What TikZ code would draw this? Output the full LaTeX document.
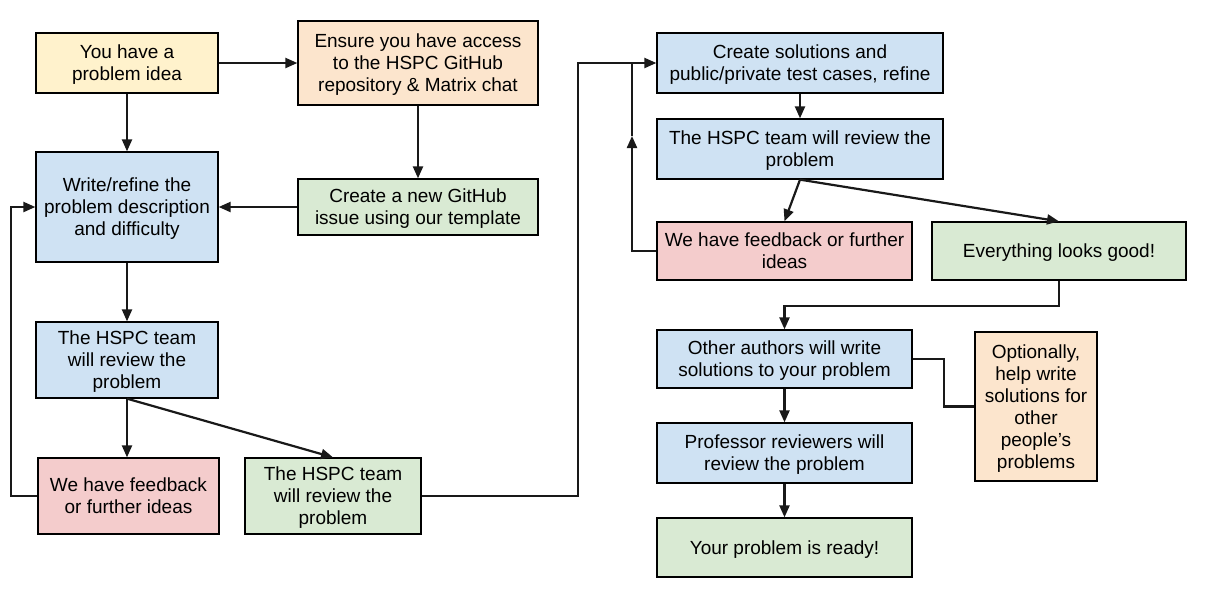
\documentclass[tikz,border=0pt]{standalone}
\usepackage{fontspec}
\setmainfont{Liberation Sans}
\usetikzlibrary{arrows.meta}
\usepackage{xcolor}
\definecolor{ideayellow}{HTML}{FFF2CC}
\definecolor{setuporange}{HTML}{FCE5CD}
\definecolor{stepblue}{HTML}{CFE2F3}
\definecolor{goodgreen}{HTML}{D9EAD3}
\definecolor{backred}{HTML}{F4CCCC}

\begin{document}
\begin{tikzpicture}[x=1pt,y=1pt,>={Triangle[length=12pt,width=10pt]}]
    \tikzstyle{box}=[draw=black, line width=1.3pt, align=center, inner sep=2pt, text depth=0pt, font=\fontsize{19}{22}\selectfont]
    \tikzstyle{idea box}=[box, fill=ideayellow];
    \tikzstyle{setup box}=[box, fill=setuporange];
    \tikzstyle{step box}=[box, fill=stepblue];
    \tikzstyle{good box}=[box, fill=goodgreen];
    \tikzstyle{back box}=[box, fill=backred];
    \tikzstyle{link}=[->, line width=2.2pt, draw=black!90];
    \tikzstyle{plain link}=[line width=2.2pt, draw=black!90];

    \useasboundingbox (0,0) rectangle (1205,-611);

    % Left part: writing the problem
    \node[idea box, minimum width=182pt, minimum height=60pt] (idea) at (127,-63) {You have a\\problem idea};
    \node[setup box, minimum width=240pt, minimum height=84pt] (access) at (418,-63) {Ensure you have access\\to the HSPC GitHub\\repository \& Matrix chat};
    \node[step box, minimum width=182pt, minimum height=110pt] (write) at (127,-207) {Write/refine the\\problem description\\and difficulty};
    \node[good box, minimum width=240pt, minimum height=56pt] (issue) at (418,-207) {Create a new GitHub\\issue using our template};
    \node[step box, minimum width=182pt, minimum height=76pt] (review1) at (127,-360) {The HSPC team\\will review the\\problem};
    \node[back box, minimum width=181pt, minimum height=76pt] (back1) at (128.5,-496) {We have feedback\\or further ideas};
    \node[good box, minimum width=176pt, minimum height=76pt] (review2) at (333,-496) {The HSPC team\\will review the\\problem};

    % Right part: solutions and reviews
    \node[step box, minimum width=286pt, minimum height=60pt] (create) at (800,-63) {Create solutions and\\public/private test cases, refine};
    \node[step box, minimum width=286pt, minimum height=60pt] (review3) at (800,-149) {The HSPC team will review the\\problem};
    \node[back box, minimum width=255pt, minimum height=58pt] (back2) at (784.5,-251) {We have feedback or further\\ideas};
    \node[good box, minimum width=254pt, minimum height=58pt] (good) at (1059,-251) {Everything looks good!};
    \node[step box, minimum width=255pt, minimum height=58pt] (others) at (784.5,-359) {Other authors will write\\solutions to your problem};
    \node[setup box, minimum width=122pt, minimum height=149pt] (optional) at (1036,-406.5) {Optionally,\\help write\\solutions for\\other\\people’s\\problems};
    \node[step box, minimum width=255pt, minimum height=60pt] (professor) at (784.5,-453) {Professor reviewers will\\review the problem};
    \node[good box, minimum width=255pt, minimum height=59pt] (ready) at (784.5,-547.5) {Your problem is ready!};

    \coordinate (backtip) at (632,-136);
    \coordinate (merge) at (632,-63);

    % Connectors on the left
    \draw[link] (idea) -- (access);
    \draw[link] (idea) -- (write);
    \draw[link] (access) -- (issue);
    \draw[link] (issue) -- (write);
    \draw[link] (write) -- (review1);
    \draw[link] (review1.south) -- (review1.south |- back1.north);
    \draw[link] (review1.south) -- (review2.north);
    \draw[link] (back1.west) -- ++(-26,0) |- (write.west);
    \draw[link] (review2.east) -- ++(156,0) |- (create.west);

    % Connectors on the right
    \draw[link] (create) -- (review3);
    \draw[link] (review3.south) -- (back2.north);
    \draw[link] (review3.south) -- (good.north);
    \draw[link] (back2.west) -| (backtip);
    \draw[plain link] (backtip) -- (merge);
    \draw[link] (good.south) -- ++(0,-25) -| (others.north);
    \draw[plain link] (others.east) -- ++(31,0) |- (optional.west);
    \draw[link] (others) -- (professor);
    \draw[link] (professor) -- (ready);
\end{tikzpicture}
\end{document}
